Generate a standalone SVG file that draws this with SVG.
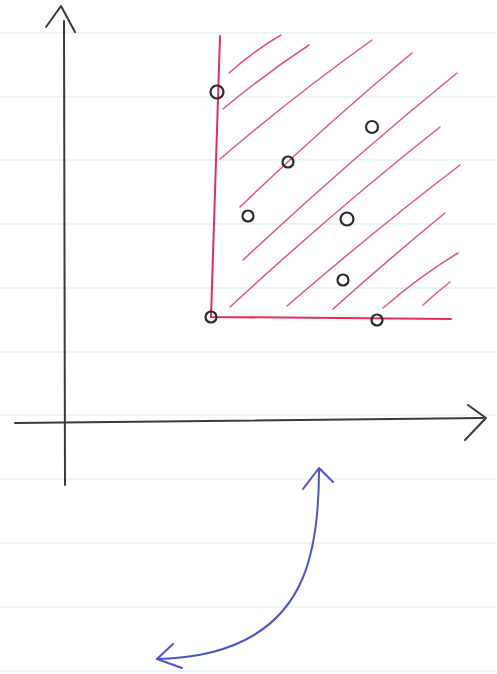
<svg xmlns="http://www.w3.org/2000/svg" width="497" height="674" viewBox="0 0 497 674">
<style>
.rule{stroke:#d6eef3;stroke-width:1.2;fill:none}
.ax{stroke:#3a3a3a;stroke-width:2;fill:none;stroke-linecap:round;stroke-linejoin:round}
.red{stroke:#e0305a;stroke-width:2;fill:none;stroke-linecap:round}
.hatch{stroke:#e8557a;stroke-width:1.5;fill:none;stroke-linecap:round}
.pt{stroke:#2a2a2a;stroke-width:2.2;fill:none}
.blue{stroke:#4a56c8;stroke-width:2;fill:none;stroke-linecap:round;stroke-linejoin:round}
</style>
<rect width="497" height="674" fill="#ffffff"/>
<g id="paper">
<line class="rule" x1="0" y1="33" x2="497" y2="33"/>
<line class="rule" x1="0" y1="97" x2="497" y2="97"/>
<line class="rule" x1="0" y1="160" x2="497" y2="160"/>
<line class="rule" x1="0" y1="224" x2="497" y2="224"/>
<line class="rule" x1="0" y1="288" x2="497" y2="288"/>
<line class="rule" x1="0" y1="352" x2="497" y2="352"/>
<line class="rule" x1="0" y1="415" x2="497" y2="415"/>
<line class="rule" x1="0" y1="479" x2="497" y2="479"/>
<line class="rule" x1="0" y1="543" x2="497" y2="543"/>
<line class="rule" x1="0" y1="607" x2="497" y2="607"/>
<line class="rule" x1="0" y1="671" x2="497" y2="671"/>
</g>
<g id="y-axis">
<path class="ax" d="M64,21 L65,485"/>
<path class="ax" d="M46,27 L61,6 L75,32"/>
</g>
<g id="x-axis">
<path class="ax" d="M15,423 L483,418"/>
<path class="ax" d="M468,405 L486,418 L465,440"/>
</g>
<g id="region">
<path class="red" d="M220,36 L211,317 L451,319"/>
<g class="hatch">
<path d="M229,73 Q255,50 281,35"/>
<path d="M223,109 Q265,74 309,45"/>
<path d="M220,159 Q295,95 372,40"/>
<path d="M240,207 Q325,125 412,53"/>
<path d="M243,260 Q350,160 457,73"/>
<path d="M230,307 Q335,210 440,127"/>
<path d="M287,306 Q375,230 460,165"/>
<path d="M333,309 Q390,258 445,213"/>
<path d="M383,308 Q420,276 458,253"/>
<path d="M423,305 Q437,292 450,282"/>
</g>
</g>
<g id="points">
<circle class="pt" cx="217" cy="92" r="6.5"/>
<circle class="pt" cx="372" cy="127" r="6"/>
<circle class="pt" cx="288" cy="162" r="5.5"/>
<circle class="pt" cx="248" cy="216" r="5.5"/>
<circle class="pt" cx="347" cy="219" r="6.5"/>
<circle class="pt" cx="343" cy="280" r="5.5"/>
<circle class="pt" cx="211" cy="317" r="5.5"/>
<circle class="pt" cx="377" cy="320" r="5.5"/>
</g>
<g id="connectors">
<path class="blue" d="M319,470 C319,560 300,612 245,640 C215,655 185,658 157,659"/>
<path class="blue" d="M303,489 L319,468 L333,482"/>
<path class="blue" d="M173,644 L157,659 L182,668"/>
</g>
</svg>
